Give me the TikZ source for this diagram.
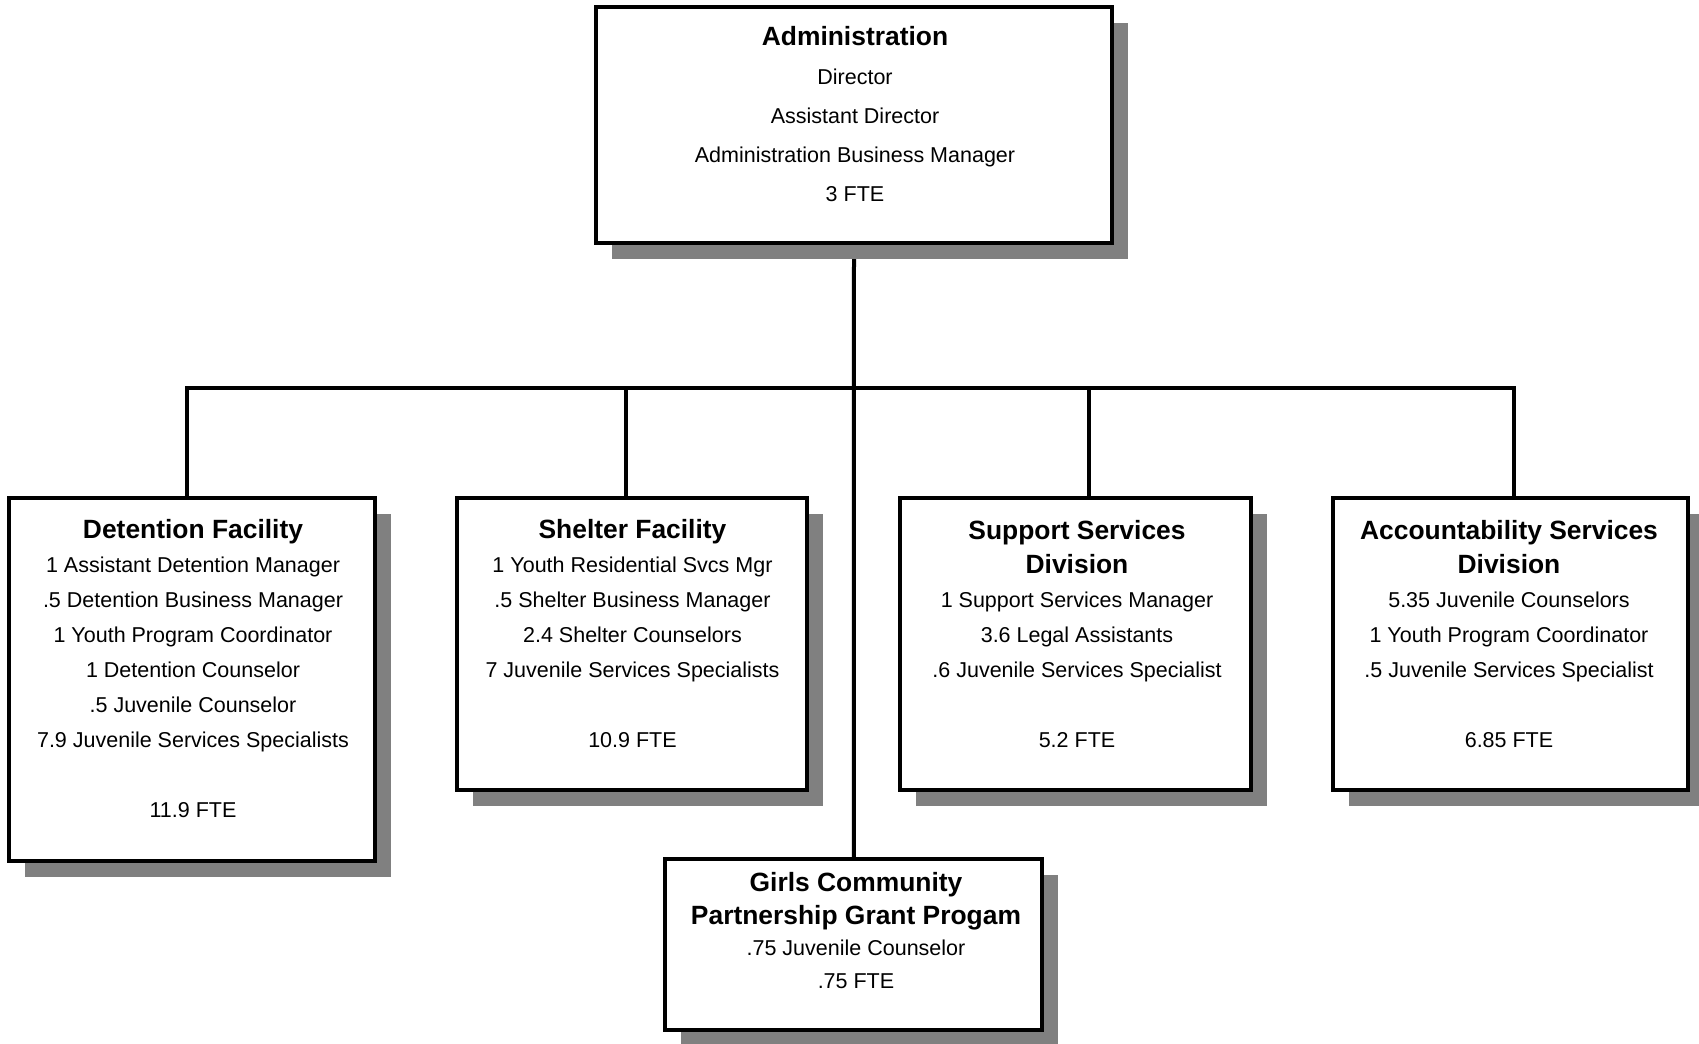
\documentclass[tikz,border=0pt]{standalone}
\usepackage{fontspec}
\setmainfont{Liberation Sans}
\usetikzlibrary{shadows,backgrounds}
\newcommand\mytitle{\fontsize{13.2}{17.5}\bfseries\selectfont}
\begin{document}
\begin{tikzpicture}[x=0.5pt,y=-0.5pt,
  box/.style={draw=black, line width=2pt, fill=white, inner sep=0pt,
    drop shadow={shadow xshift=8pt, shadow yshift=-8pt, fill=black!50, opacity=1}},
  txt/.style={align=center, inner sep=0pt, anchor=base, text=black,
    font=\fontsize{10.75}{17.5}\selectfont},
  conn/.style={line width=2pt, draw=black},
]
\useasboundingbox (0,0) rectangle (1699,1044);

% boxes
\node[box, minimum width=258pt, minimum height=118.1pt] (admin) at (854,124.6) {};
\node[box, minimum width=183.1pt, minimum height=181.5pt] (det) at (191.8,679.9) {};
\node[box, minimum width=175pt, minimum height=145.75pt] (shel) at (632.2,644.15) {};
\node[box, minimum width=175.5pt, minimum height=145.75pt] (supp) at (1075.9,644.15) {};
\node[box, minimum width=177.7pt, minimum height=145.75pt] (acc) at (1510.4,644.15) {};
\node[box, minimum width=188.5pt, minimum height=85.6pt] (girls) at (853.8,944.8) {};

% texts (anchored at the baseline of their last line)
\node[txt, font=\fontsize{10.75}{19.5}\selectfont] (admint) at (855,201)
  {{\fontsize{13.2}{19.5}\bfseries\selectfont Administration}\\[-0.3pt]
   Director\\ Assistant Director\\ Administration Business Manager\\ 3 FTE};
\node[txt] (dett) at (193,817.5)
  {{\mytitle Detention Facility}\\[-0.6pt]
   1 Assistant Detention Manager\\ .5 Detention Business Manager\\
   1 Youth Program Coordinator\\ 1 Detention Counselor\\
   .5 Juvenile Counselor\\ 7.9 Juvenile Services Specialists\\[17.5pt]
   11.9 FTE};
\node[txt] (shelt) at (632.5,747.5)
  {{\mytitle Shelter Facility}\\[-0.6pt]
   1 Youth Residential Svcs Mgr\\ .5 Shelter Business Manager\\
   2.4 Shelter Counselors\\ 7 Juvenile Services Specialists\\[17.5pt]
   10.9 FTE};
\node[txt] (suppt) at (1077,747.5)
  {{\mytitle Support Services}\\[-0.6pt]{\mytitle Division}\\[-0.6pt]
   1 Support Services Manager\\ 3.6 Legal Assistants\\
   .6 Juvenile Services Specialist\\[17.5pt]
   5.2 FTE};
\node[txt] (acct) at (1509,747.5)
  {{\mytitle Accountability Services}\\[-0.6pt]{\mytitle Division}\\[-0.6pt]
   5.35 Juvenile Counselors\\ 1 Youth Program Coordinator\\
   .5 Juvenile Services Specialist\\[17.5pt]
   6.85 FTE};
\node[txt, font=\fontsize{10.75}{16.6}\selectfont] (girlst) at (856,988.5)
  {{\fontsize{13.2}{16.6}\bfseries\selectfont Girls Community}\\[0.3pt]
   {\fontsize{13.2}{16.6}\bfseries\selectfont Partnership Grant Progam}\\[-1.4pt]
   .75 Juvenile Counselor\\ .75 FTE};

% connectors
\coordinate (bl) at (187.4,388);
\coordinate (bs) at (626.3,388);
\coordinate (bu) at (1089,388);
\coordinate (br) at (1513.6,388);
\begin{scope}[on background layer]
  \draw[conn] (admin.south) -- (girls.north);
  \draw[conn] (bl |- det.north) -- (bl) -- (br) -- (br |- acc.north);
  \draw[conn] (bs) -- (bs |- shel.north);
  \draw[conn] (bu) -- (bu |- supp.north);
\end{scope}
\end{tikzpicture}
\end{document}
